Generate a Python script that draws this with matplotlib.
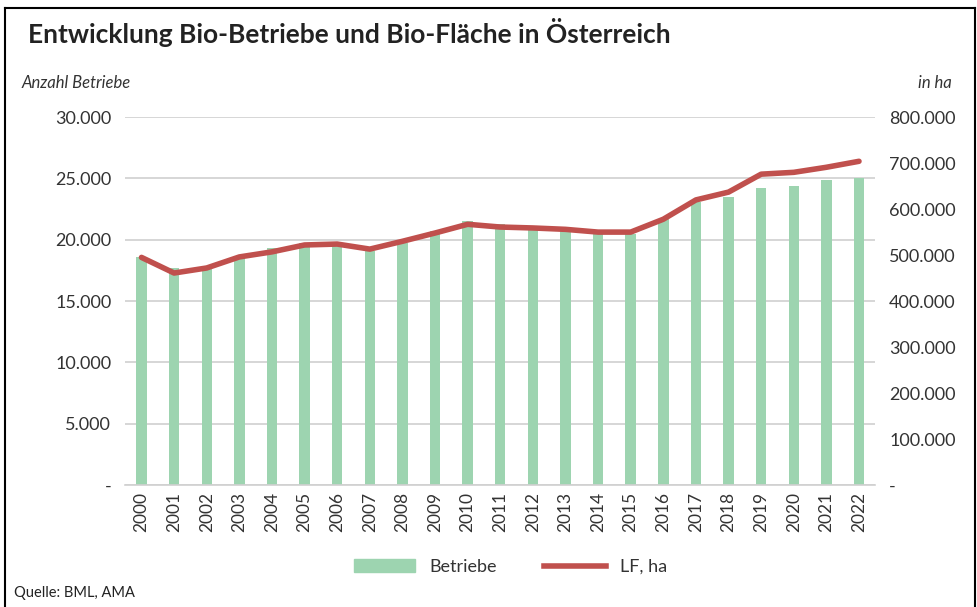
import numpy as np
import matplotlib
matplotlib.use("Agg")
import matplotlib.pyplot as plt
from matplotlib.ticker import FuncFormatter
from matplotlib.lines import Line2D

plt.rcParams["font.family"] = ["Lato", "DejaVu Sans"]

years = [str(y) for y in range(2000, 2023)]
betriebe = [18600, 17700, 17900, 18600, 19300, 19700, 19600, 19100, 19700, 20700,
            21500, 21300, 21100, 20800, 20500, 20500, 21700, 23100, 23500, 24200,
            24400, 24900, 25000]
flaeche_ha = [495000, 461000, 472000, 496000, 507000, 522000, 524000, 513000, 530000, 548000,
              567000, 561000, 559000, 556000, 550000, 550000, 578000, 620000, 637000, 676000,
              680000, 691000, 704000]

bar_color = "#9dd4b0"
line_color = "#c0504d"
text_color = "#333333"


def de_fmt(v, pos=None):
    if v == 0:
        return "-"
    return f"{int(v):,}".replace(",", ".")


fig = plt.figure(figsize=(9.78, 6.07), dpi=100)
ax = fig.add_axes([0.128, 0.201, 0.767, 0.606])
ax2 = ax.twinx()

x = np.arange(len(years))
ax.bar(x, betriebe, width=0.32, color=bar_color, zorder=2)
ax2.plot(x, flaeche_ha, color=line_color, lw=4, solid_capstyle="round", zorder=3)

ax.set_xlim(-0.5, len(years) - 0.5)
ax.set_ylim(0, 30000)
ax.set_yticks(np.arange(0, 30001, 5000))
ax2.set_ylim(0, 800000)
ax2.set_yticks(np.arange(0, 800001, 100000))
ax.yaxis.set_major_formatter(FuncFormatter(de_fmt))
ax2.yaxis.set_major_formatter(FuncFormatter(de_fmt))

ax.set_xticks(x)
ax.set_xticklabels(years, rotation=90, fontsize=12.5, color=text_color)
ax.tick_params(axis="y", labelsize=13, colors=text_color, length=0, pad=10)
ax2.tick_params(axis="y", labelsize=13, colors=text_color, length=0, pad=10)
ax.tick_params(axis="x", length=0, pad=5)

ax.grid(axis="y", color="#d0d0d0", lw=1.2, zorder=0)
ax.set_axisbelow(True)
for a in (ax, ax2):
    for s in a.spines.values():
        s.set_visible(False)
ax.spines["bottom"].set_visible(True)
ax.spines["bottom"].set_color("#d0d0d0")
ax.spines["bottom"].set_linewidth(1.2)
ax.set_zorder(ax2.get_zorder() - 1)
ax.patch.set_visible(False)

fig.text(0.029, 0.946, "Entwicklung Bio-Betriebe und Bio-Fläche in Österreich",
         fontsize=19, fontweight="bold", color="#222222", va="center")
fig.text(0.022, 0.863, "Anzahl Betriebe", fontsize=12, style="italic",
         color=text_color, va="center")
fig.text(0.973, 0.863, "in ha", fontsize=12, style="italic",
         color=text_color, va="center", ha="right")
fig.text(0.014, 0.023, "Quelle: BML, AMA", fontsize=10.5, color="#222222", va="center")

handles = [plt.Rectangle((0, 0), 1, 1, color=bar_color),
           Line2D([0], [0], color=line_color, lw=4)]
fig.legend(handles, ["Betriebe", "LF, ha"], loc="center", bbox_to_anchor=(0.522, 0.066),
           ncol=2, frameon=False, fontsize=13, handlelength=3.4, columnspacing=2.6,
           labelcolor=text_color)

# frame around the chart
fig.add_artist(Line2D([0.005, 0.005], [0.0, 0.987], color="black", lw=1.5,
                      transform=fig.transFigure))
fig.add_artist(Line2D([0.005, 0.997], [0.987, 0.987], color="black", lw=1.5,
                      transform=fig.transFigure))
fig.add_artist(Line2D([0.997, 0.997], [0.0, 0.987], color="black", lw=1.5,
                      transform=fig.transFigure))

fig.savefig("out.png", dpi=100)
